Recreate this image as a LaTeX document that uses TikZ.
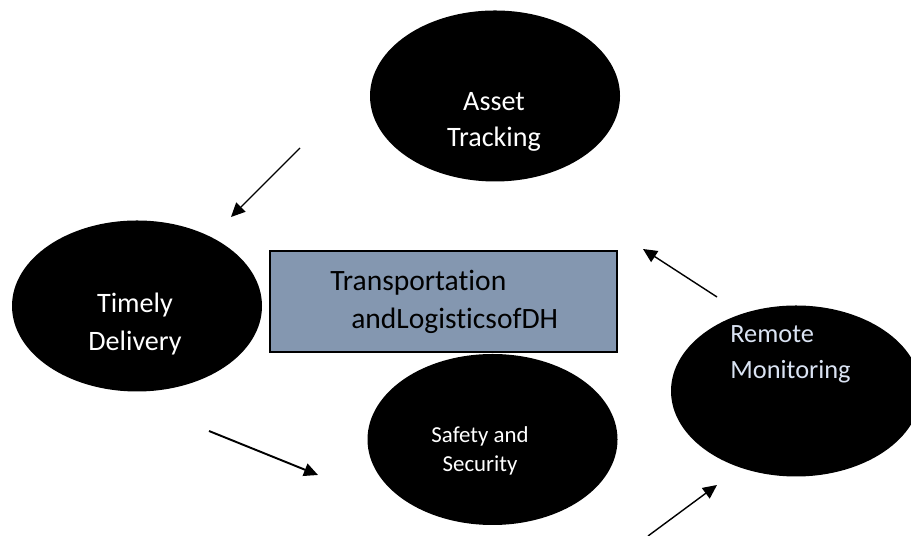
\documentclass[tikz,border=0pt]{standalone}
\usepackage{fontspec}
\setmainfont{Carlito}[Ligatures={NoCommon,NoContextual}]
\usetikzlibrary{arrows.meta,positioning,shapes.geometric}

\definecolor{hubfill}{RGB}{132,151,176}
\definecolor{paleblue}{RGB}{218,227,243}

\begin{document}
\begin{tikzpicture}[
    >={Triangle[length=0.28cm,width=0.26cm]},
    ell/.style={ellipse, fill=black, minimum width=5.0cm, minimum height=3.42cm, inner sep=0pt},
    hub/.style={rectangle, draw=black, line width=1.1pt, fill=hubfill, minimum width=6.94cm, minimum height=2.02cm},
    lbl/.style={text=white, align=center, inner sep=0pt, font=\fontsize{16}{20.5}\selectfont},
    arr/.style={->, line width=0.8pt},
  ]

  \useasboundingbox (0,0) rectangle (18.22,10.72);

  %% ===== ELLIPSES =====
  \node[ell] (asset)  at (9.90, 8.80) {};
  \node[ell] (timely) at (2.74, 4.60) {};
  \node[ell] (safety) at (9.85, 1.93) {};
  \node[ell] (remote) at (15.92, 2.90) {};

  %% centre box, laid over the top of the safety ellipse
  \node[hub] (hub) at (8.87, 4.69) {};

  %% ===== LABELS =====
  \node[lbl] (assetTxt) at (9.88, 8.28) {Asset\\Tracking};
  \node[lbl, font=\fontsize{16}{21.6}\selectfont] (timelyTxt) at (2.70, 4.24) {Timely\\Delivery};
  \node[lbl, text=black, align=left, anchor=west, font=\fontsize{16.8}{21.6}\selectfont]
    (hubTxt) at (6.60, 4.68) {Transportation\\\hspace*{0.42cm}andLogisticsofDH};
  \node[lbl, font=\fontsize{13}{16.5}\selectfont] (safetyTxt) at (9.60, 1.70) {Safety and\\Security};
  \node[lbl, text=paleblue, align=left, anchor=west, font=\fontsize{15}{20.5}\selectfont]
    (remoteTxt) at (14.60, 3.64) {Remote\\Monitoring};

  %% ===== ARROWS =====
  \coordinate (trkFrom) at (6.00, 7.76);
  \coordinate (trkTo)   at (4.62, 6.38);
  \coordinate (monFrom) at (14.34, 4.78);
  \coordinate (monTo)   at (12.86, 5.74);
  \coordinate (delFrom) at (4.18, 2.10);
  \coordinate (delTo)   at (6.36, 1.22);
  \coordinate (secFrom) at (12.96, 0);
  \coordinate (secTo)   at (14.34, 1.02);

  \draw[arr, line width=0.7pt] (trkFrom) -- (trkTo);
  \draw[arr] (monFrom) -- (monTo);
  \draw[arr, line width=1.1pt] (delFrom) -- (delTo);
  \draw[arr] (secFrom) -- (secTo);

\end{tikzpicture}
\end{document}
